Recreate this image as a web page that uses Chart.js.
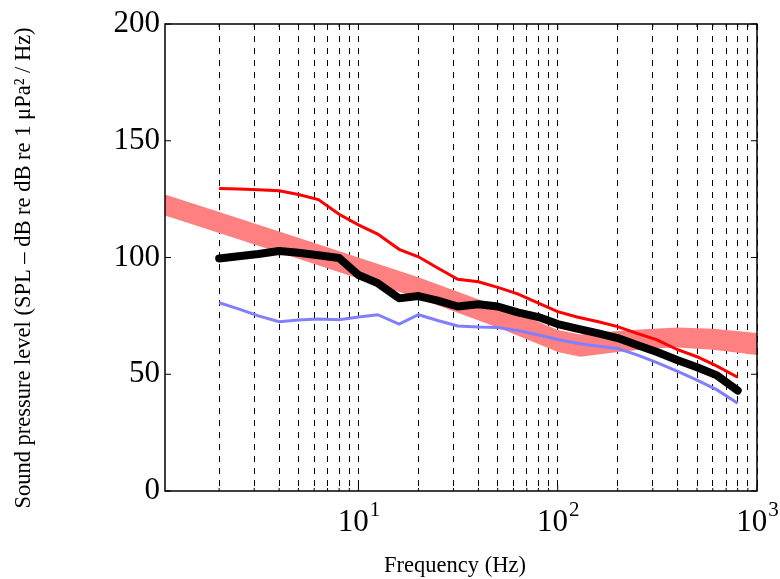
<!DOCTYPE html>
<html>
<head>
<meta charset="utf-8">
<script src="https://cdn.jsdelivr.net/npm/chart.js@4.4.1/dist/chart.umd.min.js"></script>
<style>
  body { margin: 0; background: #fff; }
  #wrap { width: 780px; height: 579px; }
</style>
</head>
<body>
<div id="wrap"><canvas id="spl" width="780" height="579"></canvas></div>
<script>
// third-octave centre frequencies (Hz)
const freqs = [2, 2.5, 3.15, 4, 5, 6.3, 8, 10, 12.5, 16, 20, 25, 31.5, 40, 50, 63, 80, 100, 125, 160, 200, 250, 315, 400, 500, 630, 800];
const splMedian = [99.6, 100.5, 101.5, 102.8, 102, 101, 99.8, 92.5, 89, 82.5, 83.5, 81.5, 79, 80, 79, 76.5, 74.5, 71.5, 69.5, 67.5, 65.5, 62.5, 59.5, 56, 53, 49.5, 43];
const splHigh = [129.6, 129.3, 129, 128.6, 127, 124.8, 118.5, 114, 110, 103.5, 100.3, 95.5, 90.7, 89.6, 87.2, 84.4, 80.5, 76.8, 74.5, 72.5, 70.4, 67.5, 64.7, 60.5, 57.5, 53.5, 48.7];
const splLow = [80.6, 78, 75, 72.5, 73.2, 73.7, 73.3, 74.5, 75.5, 71.5, 75.5, 73, 70.7, 70.2, 70, 68.7, 66.8, 64.9, 63.3, 62, 61, 58.3, 55, 51.2, 47.5, 43.3, 37.6];

// reference noise band
const bandFreqs = [1.07, 2, 5, 10, 20, 50, 80, 100, 130, 200, 300, 400, 600, 1000];
const bandUpper = [127, 119.5, 108.5, 100, 91.5, 79, 72.5, 69, 67, 68.5, 69.5, 70, 69.5, 67.7];
const bandLower = [118, 110.5, 99.5, 91, 82.5, 70, 63, 59.5, 57.5, 59.5, 61, 61.5, 60.5, 58.2];

const gridFreqs = [2, 3, 4, 5, 6, 7, 8, 9, 10, 20, 30, 40, 50, 60, 70, 80, 90, 100, 200, 300, 400, 500, 600, 700, 800, 900, 1000];
const majorFreqs = [10, 100, 1000];
const yTicks = [0, 50, 100, 150, 200];

const xy = (xs, ys) => xs.map((x, i) => ({ x: x, y: ys[i] }));
const serif = '"Liberation Serif", "DejaVu Serif", serif';

// axes box, ticks and labels drawn on top
const axesPlugin = {
  id: 'axesPlugin',
  afterDraw(chart) {
    const ctx = chart.ctx;
    const a = chart.chartArea;
    const xs = chart.scales.x, ys = chart.scales.y;
    ctx.save();
    ctx.strokeStyle = '#000';
    ctx.lineWidth = 1.5;
    ctx.strokeRect(a.left, a.top, a.right - a.left, a.bottom - a.top);

    ctx.lineWidth = 1;
    ctx.beginPath();
    yTicks.forEach(v => {
      const y = ys.getPixelForValue(v);
      ctx.moveTo(a.left, y); ctx.lineTo(a.left + 6, y);
      ctx.moveTo(a.right, y); ctx.lineTo(a.right - 6, y);
    });
    gridFreqs.forEach(f => {
      const x = xs.getPixelForValue(f);
      const len = majorFreqs.includes(f) ? 6 : 3;
      ctx.moveTo(x, a.bottom); ctx.lineTo(x, a.bottom - len);
      ctx.moveTo(x, a.top); ctx.lineTo(x, a.top + len);
    });
    ctx.stroke();

    ctx.fillStyle = '#000';
    ctx.font = '31px ' + serif;
    ctx.textAlign = 'right';
    ctx.textBaseline = 'middle';
    yTicks.forEach(v => ctx.fillText(String(v), a.left - 5, ys.getPixelForValue(v)));

    ctx.textBaseline = 'alphabetic';
    ctx.textAlign = 'left';
    majorFreqs.forEach(f => {
      const x = xs.getPixelForValue(f);
      const exp = String(Math.round(Math.log10(f)));
      ctx.font = '31px ' + serif;
      const w1 = ctx.measureText('10').width;
      ctx.font = '21px ' + serif;
      const w2 = ctx.measureText(exp).width;
      const x0 = x - (w1 + w2) / 2;
      ctx.font = '31px ' + serif;
      ctx.fillText('10', x0, a.bottom + 40);
      ctx.font = '21px ' + serif;
      ctx.fillText(exp, x0 + w1 + 1, a.bottom + 25);
    });

    ctx.font = '22.5px ' + serif;
    ctx.textAlign = 'center';
    ctx.fillText('Frequency (Hz)', (a.left + a.right) / 2 - 6, 572);

    ctx.translate(30, 268);
    ctx.rotate(-Math.PI / 2);
    ctx.fillText('Sound pressure level (SPL \u2013 dB re dB re 1 \u03bcPa\u00b2 / Hz)', 0, 0);
    ctx.restore();
  }
};

new Chart(document.getElementById('spl'), {
  type: 'line',
  data: {
    datasets: [
      { data: xy(freqs, splMedian), borderColor: '#000', borderWidth: 8, order: 0,
        borderCapStyle: 'round', borderJoinStyle: 'round' },
      { data: xy(freqs, splHigh), borderColor: '#ff0000', borderWidth: 3, order: 1 },
      { data: xy(freqs, splLow), borderColor: 'rgb(128,128,255)', borderWidth: 3, order: 2 },
      { data: xy(bandFreqs, bandLower), borderWidth: 0, borderColor: 'rgba(0,0,0,0)', order: 10, fill: false },
      { data: xy(bandFreqs, bandUpper), borderWidth: 0, borderColor: 'rgba(0,0,0,0)', order: 9,
        fill: '-1', backgroundColor: 'rgb(255,128,128)' }
    ]
  },
  options: {
    responsive: false,
    animation: false,
    layout: { padding: { left: 165, right: 23, top: 24, bottom: 88 } },
    elements: { point: { radius: 0 }, line: { tension: 0 } },
    plugins: { legend: { display: false }, tooltip: { enabled: false } },
    scales: {
      x: {
        type: 'logarithmic',
        min: 1.07,
        max: 1000,
        afterBuildTicks: s => { s.ticks = gridFreqs.map(v => ({ value: v })); },
        ticks: { display: false },
        grid: { color: '#000', lineWidth: 1, drawTicks: false },
        border: { display: false, dash: [6, 6] }
      },
      y: { display: false, min: 0, max: 200 }
    }
  },
  plugins: [axesPlugin]
});
</script>
</body>
</html>
